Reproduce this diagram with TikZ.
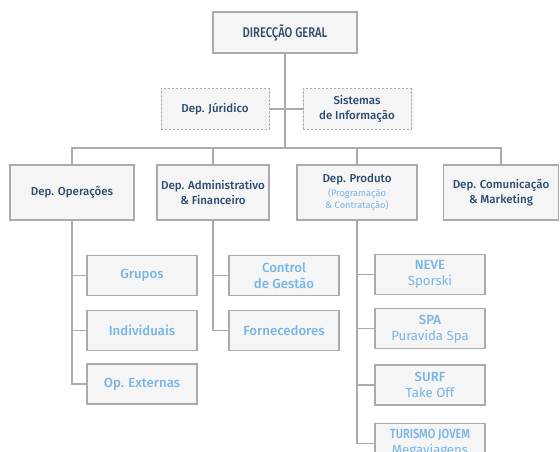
\documentclass[tikz,border=0pt]{standalone}
\usepackage{fontspec}
\usepackage{graphicx}
\setmainfont{Fira Sans}[BoldFont={* Medium}]
\usetikzlibrary{positioning}
\definecolor{navy}{HTML}{2B4A70}
\definecolor{sky}{HTML}{76B5E6}
\definecolor{boxfill}{HTML}{F5F5F5}
\definecolor{boxline}{HTML}{ABABAB}
\tikzstyle{box}=[draw=boxline,fill=boxfill,line width=1.3pt,align=center,inner sep=2pt]
\tikzstyle{head}=[box,text=navy,font=\fontsize{11.5}{15}\selectfont\bfseries,minimum height=55pt]
\tikzstyle{staff}=[head,dashed,dash pattern=on 2.2pt off 1.8pt,line width=0.9pt,minimum width=108pt,minimum height=41pt]
\tikzstyle{unit}=[box,text=sky,font=\fontsize{13.2}{16}\selectfont\bfseries,minimum width=110pt,minimum height=40pt]
\tikzstyle{link}=[draw=boxline,line width=1.3pt]
\newcommand{\prdnote}[1]{\textcolor{sky}{\fontsize{9.3}{11}\selectfont\mdseries #1}}
\newcommand{\narrowcaps}[2][0.8]{\scalebox{#1}[1]{#2}}

\begin{document}
\begin{tikzpicture}[x=1pt,y=-1pt]
\useasboundingbox (0,0) rectangle (560,452);

\node[head,minimum width=144pt,minimum height=41pt,
      font=\fontsize{14}{16}\selectfont\bfseries] (dg) at (285,32.5) {\narrowcaps{DIRECÇÃO GERAL}};
\node[staff] (jur) at (215,109) {Dep. Júridico};
\node[staff] (sis) at (357,109) {Sistemas\\de Informação};
\coordinate (bus) at (285,148);

\node[head,minimum width=124pt] (ops) at (72,192.5)  {Dep. Operações};
\node[head,minimum width=112pt] (adm) at (213,192.5) {Dep. Administrativo\\\& Financeiro};
\node[head,minimum width=120pt] (prd) at (357,192.5) {Dep. Produto\\[-1pt]
  \prdnote{(Programação}\\[-3pt]\prdnote{\& Contratação)}};
\node[head,minimum width=115pt] (com) at (501,192.5) {Dep. Comunicação\\\& Marketing};

% operacoes
\node[unit] (grp) at (142,275.5) {Grupos};
\node[unit] (ind) [below=14pt of grp] {Individuais};
\node[unit] (ext) [below=12pt of ind] {Op. Externas};

% administrativo
\node[unit] (ctl) at (284,275.5) {Control\\de Gestão};
\node[unit] (frn) [below=14pt of ctl] {Fornecedores};

% produto
\node[unit] (nev) at (430,274.5) {NEVE\\\mdseries Sporski};
\node[unit] (spa) [below=13pt of nev] {SPA\\\mdseries Puravida Spa};
\node[unit] (srf) [below=15pt of spa] {SURF\\\mdseries Take Off};
\node[unit] (tur) [below=17pt of srf] {\narrowcaps[0.84]{TURISMO JOVEM}\\\mdseries Megaviagens};

\path[link] (dg) -- (bus)
            (jur) -- (sis)
            (ops.north) |- (bus) -| (com.north)
            (adm.north) -- (adm.north |- bus)
            (prd.north) -- (prd.north |- bus);

\path[link] (ops.south) |- (grp.west)
            (ops.south) |- (ind.west)
            (ops.south) |- (ext.west);
\path[link] (adm.south) |- (ctl.west)
            (adm.south) |- (frn.west);
\path[link] (prd.south) |- (nev.west)
            (prd.south) |- (spa.west)
            (prd.south) |- (srf.west)
            (prd.south) |- (tur.west);

\end{tikzpicture}
\end{document}
